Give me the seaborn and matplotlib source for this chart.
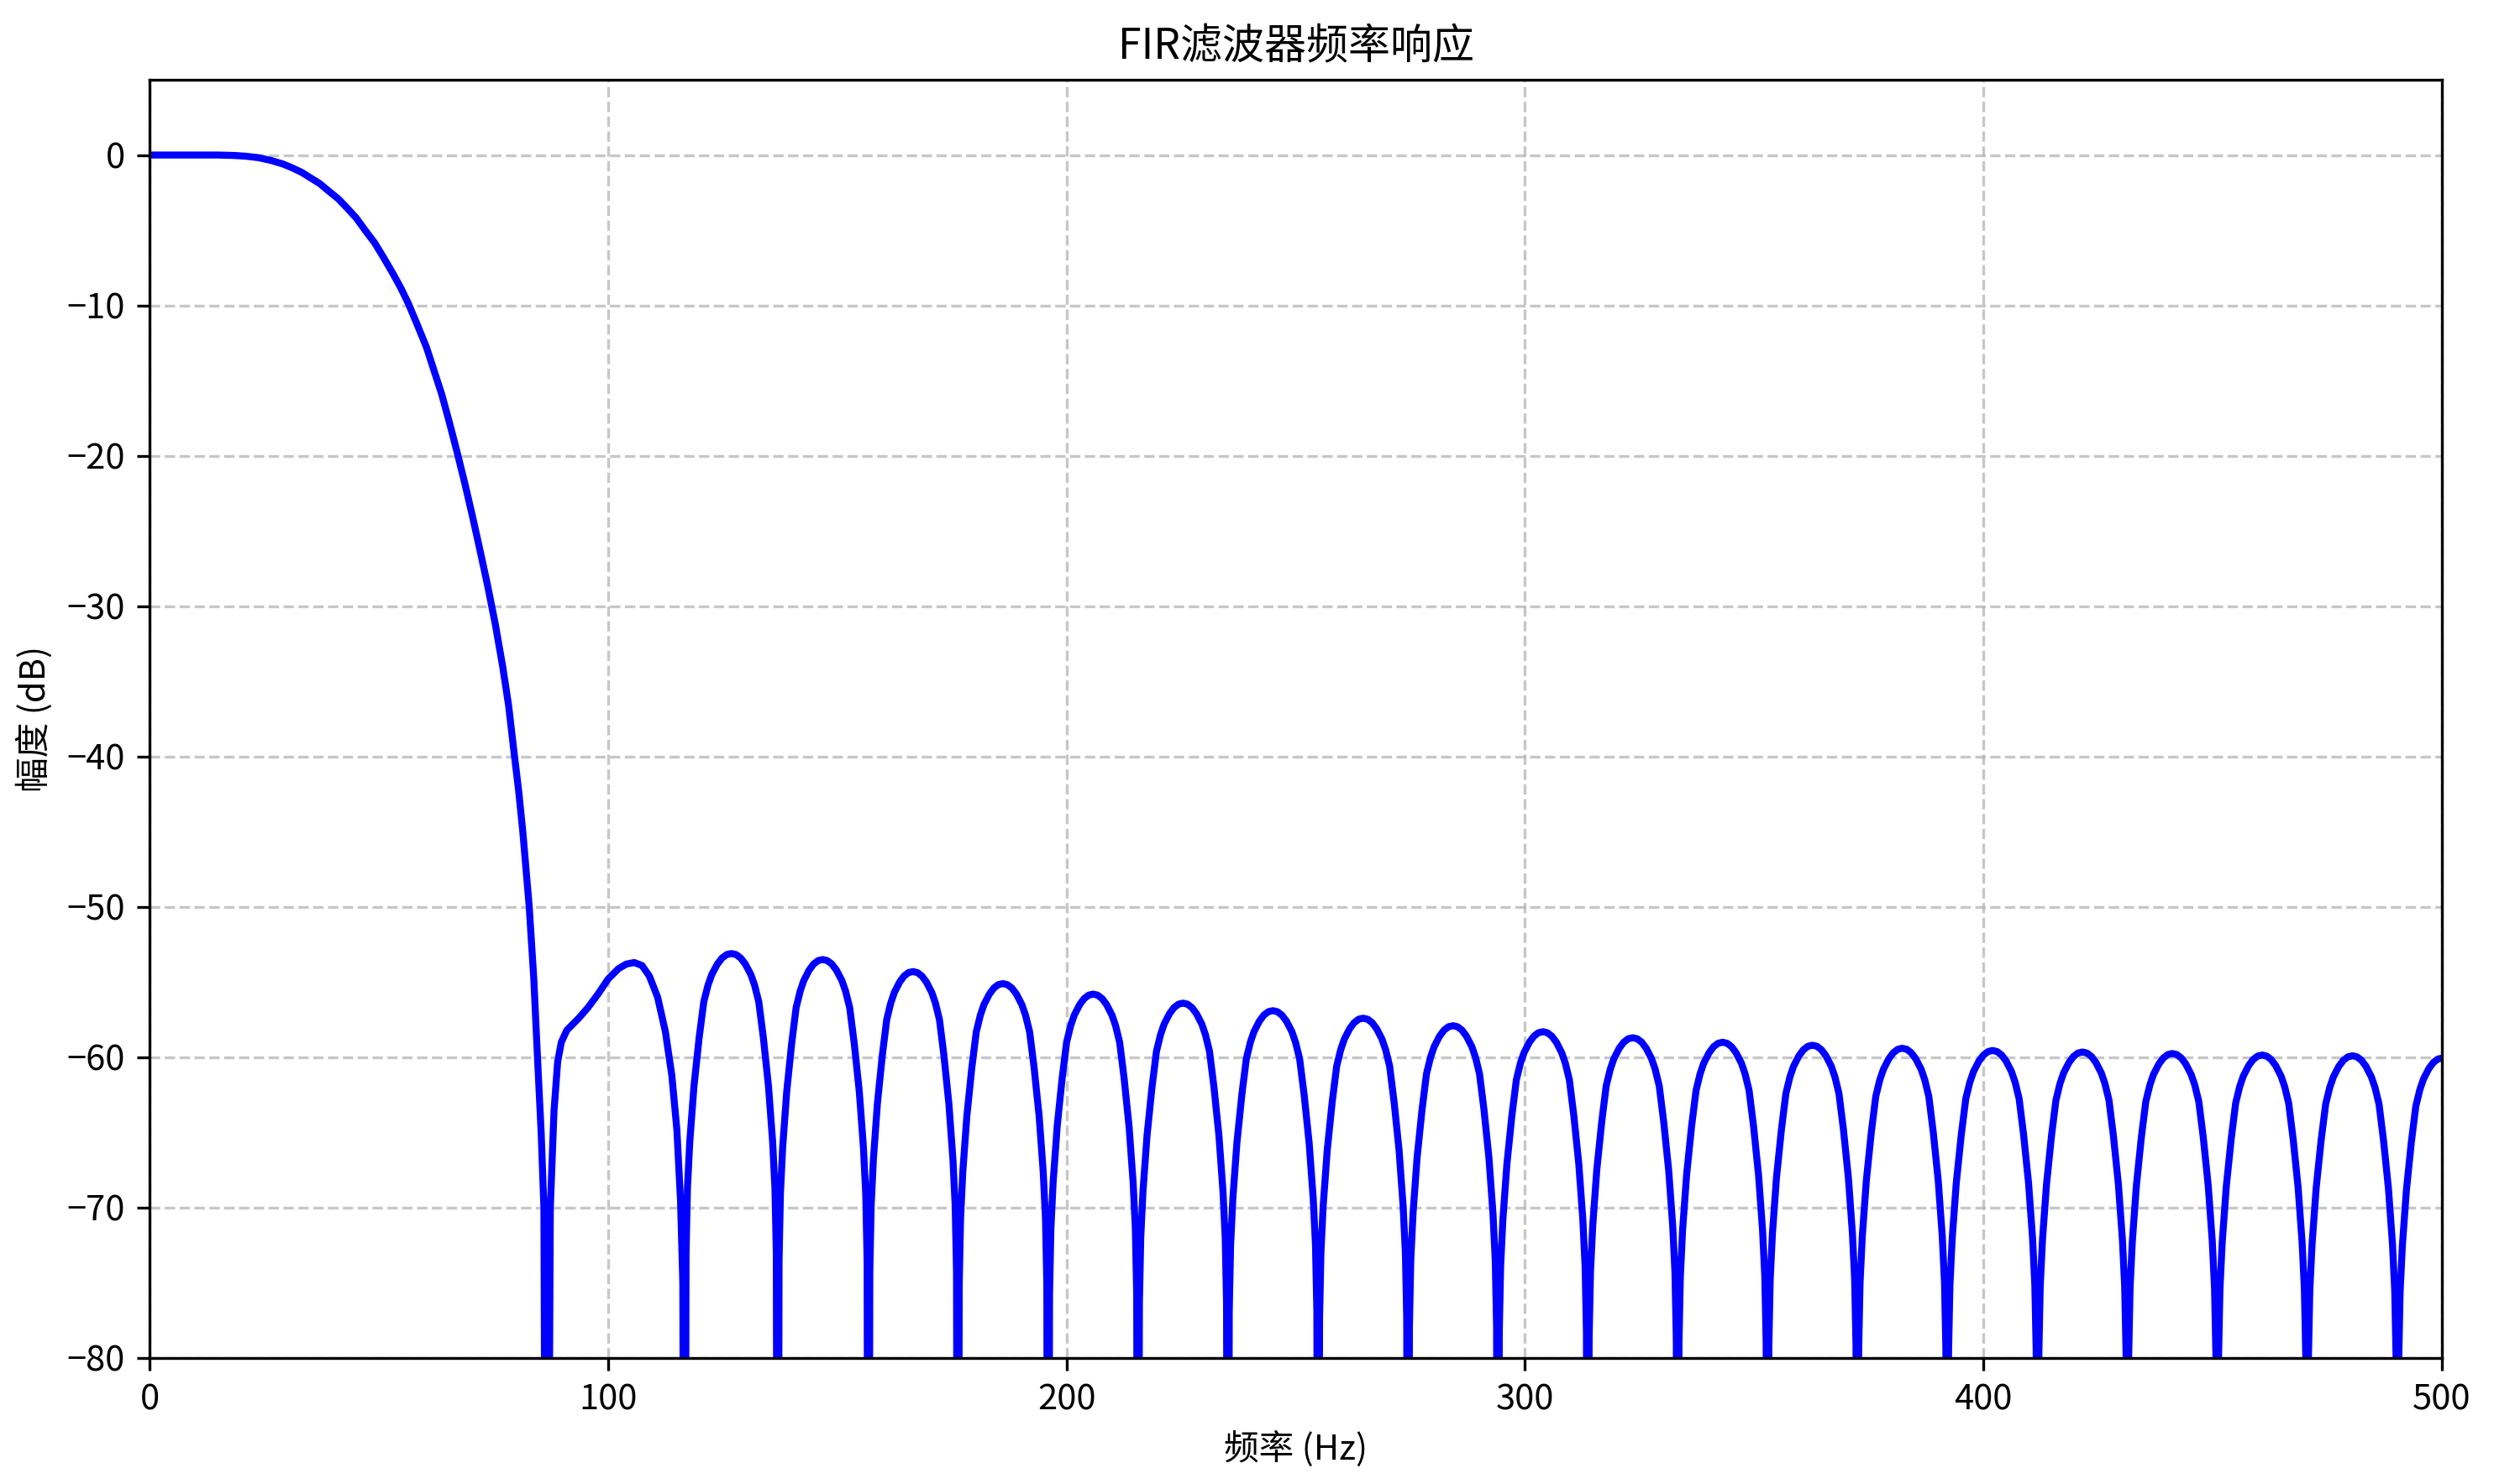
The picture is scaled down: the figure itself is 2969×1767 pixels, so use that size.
import matplotlib
matplotlib.use('Agg')
import matplotlib.pyplot as plt
import pandas as pd
import seaborn as sns

# 通带与过渡带 (Hz, dB)
pass_hz = [0, 10, 15, 18.5, 21, 23.8, 26.5, 29.1, 31, 33.1, 35, 37.1, 39, 41.1,
           43, 45.1, 47, 49.1, 51, 53.1, 54.8, 56.4, 58.4, 60.4, 62, 63.7, 65.4,
           67.1, 68.8, 70.4, 72, 73.7, 75.4, 77.0, 78.3, 79.4, 80.5, 81.4, 82.8,
           83.8, 84.6, 85.4, 86.0]
pass_db = [0, 0, 0, -0.03, -0.08, -0.18, -0.36, -0.6, -0.84, -1.14, -1.5, -1.9,
           -2.38, -2.9, -3.5, -4.2, -5.0, -5.85, -6.8, -7.9, -8.85, -9.85, -11.3,
           -12.8, -14.3, -15.9, -17.8, -19.8, -21.9, -24.0, -26.2, -28.6, -31.2,
           -34.0, -36.6, -39.5, -42.3, -45, -50, -54.8, -60, -65, -70]

# 第一个旁瓣（带肩）
lobe1_hz = [87.4, 88.2, 89.0, 89.8, 91.0, 93.6, 95.6, 97.8, 100.0, 102.3,
            104.0, 105.7, 107.4, 109.0, 110.8, 112.5, 113.9, 115.0, 115.8, 116.3]
lobe1_db = [-70, -63.6, -60.3, -59.0, -58.2, -57.4, -56.7, -55.8, -54.8, -54.1,
            -53.8, -53.7, -53.9, -54.6, -56.0, -58.3, -61.2, -64.8, -69.5, -75]

# 阻带零点、旁瓣峰值
null_hz = [86.6, 116.7, 137.0, 156.8, 176.3, 196.0, 215.6, 235.2, 254.9, 274.5,
           294.1, 313.7, 333.3, 352.9, 372.5, 392.1, 411.8, 431.4, 451.0,
           470.6, 490.3, 509.9]
peak_hz = [126.9, 146.8, 166.5, 186.1, 205.8, 225.4, 245.0, 264.7, 284.3,
           303.9, 323.5, 343.1, 362.7, 382.3, 402.0, 421.6, 441.2, 460.8,
           480.5, 500.1]
peak_db = [-53.1, -53.5, -54.3, -55.1, -55.8, -56.4, -56.9, -57.4, -57.9,
           -58.3, -58.7, -59.0, -59.2, -59.4, -59.55, -59.65, -59.75, -59.85,
           -59.9, -60.05]

# 旁瓣形状：离峰值的相对位置 -> 比峰值低多少 dB（从放大图读取）
lobe_u = [0.1, 0.2, 0.3, 0.42, 0.5, 0.59, 0.69, 0.8, 0.89, 0.94, 0.97]
lobe_drop = [0.07, 0.3, 0.7, 1.4, 2.1, 3.2, 5.6, 8.8, 12.5, 15.6, 20.0]
null_db = -120

freq = list(pass_hz) + [null_hz[0]] + list(lobe1_hz)
mag = list(pass_db) + [null_db] + list(lobe1_db)
for i in range(len(peak_hz)):
    left, right = null_hz[i + 1], null_hz[i + 2]
    pk, top = peak_hz[i], peak_db[i]
    freq.append(left)
    mag.append(null_db)
    for u, d in zip(lobe_u[::-1], lobe_drop[::-1]):
        freq.append(pk - u * (pk - left))
        mag.append(top - d)
    freq.append(pk)
    mag.append(top)
    for u, d in zip(lobe_u, lobe_drop):
        freq.append(pk + u * (right - pk))
        mag.append(top - d)

df = pd.DataFrame({'freq': freq, 'mag': mag})

plt.rcParams['font.family'] = ['Noto Sans CJK SC', 'DejaVu Sans']

fig, ax = plt.subplots(figsize=(2969 / 300, 1767 / 300), dpi=300)
fig.subplots_adjust(left=0.0600, right=0.9791, bottom=0.0849, top=0.9462)
sns.lineplot(data=df, x='freq', y='mag', estimator=None, sort=False,
             color='blue', linewidth=2, ax=ax)
ax.set_xlim(0, 500)
ax.set_ylim(-80, 5)
ax.set_title('FIR滤波器频率响应', fontsize=12)
ax.set_xlabel('频率 (Hz)')
ax.set_ylabel('幅度 (dB)')
ax.grid(True, linestyle='--', alpha=0.7)
fig.savefig('out.png', dpi=300)
